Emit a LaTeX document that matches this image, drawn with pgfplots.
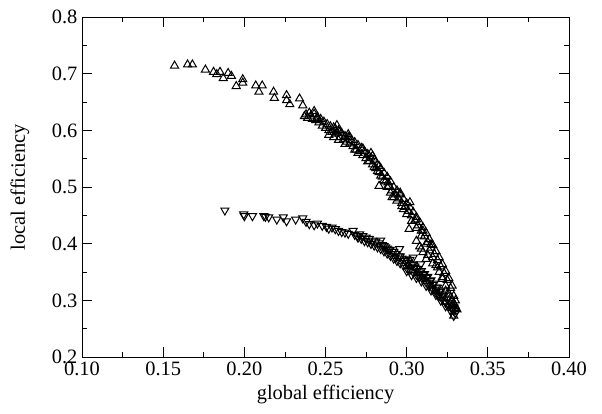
\documentclass[border=0pt]{standalone}
\usepackage{pgfplots}
\pgfplotsset{compat=1.18}
\usepackage{fontspec}
\setmainfont{Liberation Serif}

\pgfplotstableread{
x y
0.157 0.714
0.165 0.716
0.168 0.716
0.176 0.707
0.181 0.703
0.183 0.699
0.185 0.703
0.187 0.692
0.190 0.701
0.192 0.696
0.195 0.678
0.199 0.690
0.199 0.684
0.207 0.679
0.209 0.668
0.211 0.679
0.218 0.668
0.2185 0.657
0.226 0.662
0.226 0.653
0.228 0.646
0.234 0.656
0.236 0.644
0.237 0.625
0.243 0.634
0.245 0.622
0.238 0.628
0.239 0.622
0.240 0.631
0.241 0.626
0.242 0.620
0.243 0.629
0.244 0.618
0.245 0.624
0.246 0.614
0.247 0.620
0.248 0.608
0.249 0.615
0.250 0.604
0.251 0.611
0.252 0.600
0.252 0.592
0.253 0.607
0.254 0.597
0.255 0.605
0.255 0.588
0.256 0.594
0.256 0.603
0.257 0.609
0.257 0.596
0.258 0.600
0.258 0.583
0.259 0.588
0.259 0.598
0.260 0.595
0.261 0.584
0.262 0.590
0.262 0.576
0.263 0.580
0.264 0.588
0.264 0.593
0.265 0.577
0.265 0.588
0.266 0.583
0.267 0.572
0.268 0.579
0.268 0.566
0.269 0.566
0.270 0.574
0.270 0.560
0.271 0.563
0.272 0.569
0.273 0.556
0.273 0.568
0.274 0.563
0.275 0.551
0.276 0.558
0.276 0.545
0.277 0.546
0.278 0.552
0.278 0.560
0.279 0.555
0.279 0.540
0.280 0.548
0.280 0.535
0.281 0.533
0.282 0.540
0.282 0.528
0.283 0.526
0.283 0.537
0.283 0.502
0.284 0.533
0.284 0.520
0.285 0.518
0.286 0.525
0.286 0.512
0.287 0.510
0.288 0.518
0.288 0.500
0.2885 0.508
0.289 0.502
0.290 0.510
0.290 0.490
0.291 0.494
0.291 0.482
0.292 0.500
0.292 0.482
0.293 0.487
0.294 0.494
0.294 0.476
0.295 0.480
0.296 0.487
0.296 0.490
0.297 0.472
0.297 0.466
0.298 0.479
0.298 0.461
0.299 0.465
0.300 0.471
0.300 0.452
0.301 0.458
0.302 0.464
0.302 0.473
0.3015 0.426
0.303 0.450
0.303 0.440
0.304 0.456
0.305 0.441
0.306 0.447
0.306 0.443
0.306 0.428
0.306 0.405
0.307 0.432
0.308 0.438
0.308 0.395
0.309 0.423
0.309 0.414
0.310 0.429
0.310 0.423
0.310 0.385
0.311 0.413
0.312 0.419
0.312 0.400
0.309 0.391
0.313 0.403
0.313 0.380
0.314 0.408
0.314 0.388
0.315 0.399
0.315 0.393
0.316 0.398
0.316 0.376
0.316 0.365
0.312 0.373
0.317 0.382
0.318 0.387
0.318 0.362
0.319 0.371
0.319 0.358
0.320 0.376
0.320 0.350
0.321 0.360
0.322 0.364
0.322 0.341
0.322 0.338
0.323 0.348
0.324 0.352
0.324 0.317
0.324 0.326
0.325 0.336
0.326 0.339
0.326 0.312
0.327 0.322
0.327 0.305
0.328 0.326
0.328 0.300
0.328 0.292
0.329 0.308
0.330 0.300
0.330 0.290
0.330 0.285
0.329 0.295
0.331 0.284
0.329 0.273
}\upperdata

\pgfplotstableread{
x y
0.188 0.459
0.1996 0.452
0.200 0.449
0.205 0.449
0.212 0.449
0.213 0.448
0.215 0.447
0.220 0.443
0.224 0.447
0.226 0.440
0.2316 0.443
0.236 0.445
0.238 0.439
0.240 0.435
0.243 0.433
0.245 0.436
0.248 0.432
0.2506 0.430
0.252 0.427
0.254 0.429
0.256 0.426
0.258 0.423
0.260 0.421
0.262 0.420
0.264 0.418
0.267 0.423
0.2696 0.414
0.268 0.416
0.270 0.411
0.271 0.417
0.272 0.409
0.273 0.414
0.274 0.405
0.275 0.411
0.276 0.403
0.277 0.409
0.278 0.400
0.279 0.406
0.280 0.397
0.281 0.404
0.282 0.394
0.283 0.401
0.284 0.391
0.284 0.406
0.285 0.398
0.286 0.387
0.286 0.396
0.287 0.394
0.288 0.383
0.288 0.392
0.289 0.390
0.2897 0.389
0.290 0.379
0.291 0.386
0.292 0.374
0.292 0.386
0.293 0.382
0.293 0.376
0.294 0.370
0.295 0.378
0.2956 0.391
0.296 0.366
0.296 0.378
0.297 0.374
0.298 0.362
0.299 0.370
0.300 0.358
0.300 0.373
0.300 0.366
0.300 0.352
0.301 0.367
0.302 0.354
0.302 0.372
0.303 0.363
0.303 0.345
0.304 0.350
0.304 0.376
0.304 0.364
0.305 0.360
0.305 0.358
0.306 0.346
0.306 0.356
0.306 0.340
0.307 0.356
0.308 0.342
0.308 0.350
0.3087 0.364
0.309 0.352
0.309 0.334
0.310 0.337
0.310 0.341
0.310 0.345
0.311 0.347
0.312 0.332
0.312 0.340
0.312 0.326
0.313 0.342
0.314 0.326
0.314 0.332
0.3146 0.335
0.315 0.336
0.315 0.318
0.316 0.320
0.316 0.328
0.317 0.330
0.318 0.314
0.318 0.323
0.318 0.318
0.318 0.310
0.319 0.323
0.320 0.308
0.320 0.316
0.321 0.316
0.321 0.300
0.322 0.302
0.322 0.311
0.322 0.306
0.323 0.309
0.324 0.296
0.324 0.297
0.324 0.290
0.325 0.302
0.326 0.290
0.327 0.295
0.327 0.282
0.328 0.284
0.328 0.285
0.329 0.288
0.330 0.278
0.329 0.282
0.329 0.273
}\lowerdata

\begin{document}
\begin{tikzpicture}
\begin{axis}[
  scale only axis,
  width=365pt, height=255pt,
  xmin=0.1, xmax=0.4, ymin=0.2, ymax=0.8,
  xtick={0.1,0.15,...,0.41},
  ytick={0.2,0.3,...,0.81},
  minor x tick num=1,
  minor y tick num=1,
  tick align=inside,
  major tick length=7.5pt,
  minor tick length=4pt,
  tick style={black, line width=0.6pt},
  axis line style={line width=0.6pt},
  xticklabel style={/pgf/number format/.cd, fixed, fixed zerofill, precision=2},
  yticklabel style={/pgf/number format/.cd, fixed, fixed zerofill, precision=1},
  /pgf/number format/assume math mode=true,
  ticklabel style={font=\fontsize{15.3}{18}\selectfont},
  label style={font=\fontsize{15.3}{18}\selectfont},
  xlabel={global efficiency},
  ylabel={local efficiency},
  ylabel style={yshift=10pt},
]
\addplot[only marks, mark=triangle, mark size=3.5pt, mark options={black, line width=0.75pt}] table {\upperdata};
\addplot[only marks, mark=triangle, mark size=3.5pt, mark options={black, line width=0.75pt, rotate=180}] table {\lowerdata};
\end{axis}
\path (current axis.south west)++(-61.5pt,-42pt) rectangle ([shift={(24.75pt,12.75pt)}]current axis.north east);
\end{tikzpicture}
\end{document}
